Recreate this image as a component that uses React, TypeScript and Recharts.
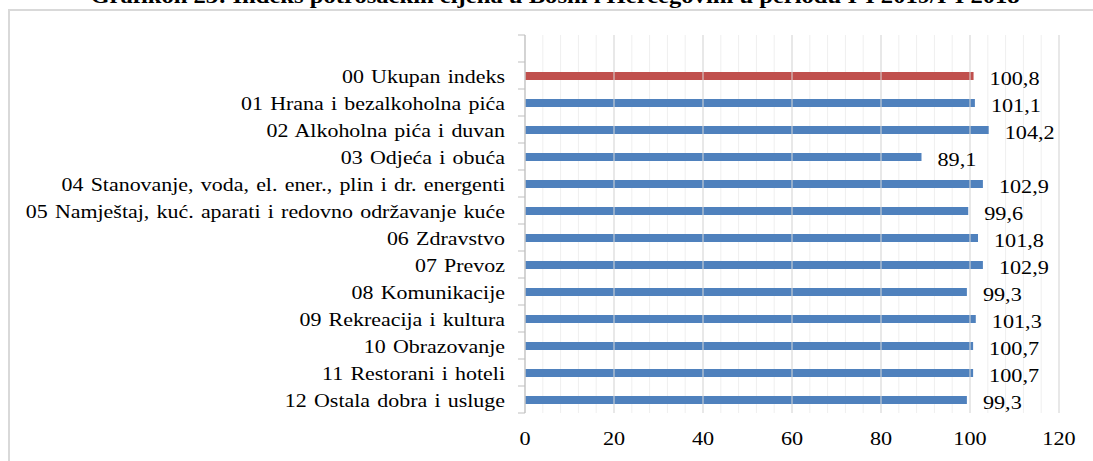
import React from "react";
import {
  BarChart,
  Bar,
  XAxis,
  YAxis,
  CartesianGrid,
  ReferenceLine,
  LabelList,
  Cell,
} from "recharts";

// first row is an empty category (blank row in the source sheet)
const categories = [
  "",
  "00 Ukupan indeks",
  "01 Hrana i bezalkoholna pića",
  "02 Alkoholna pića i duvan",
  "03 Odjeća i obuća",
  "04 Stanovanje, voda, el. ener., plin i dr. energenti",
  "05 Namještaj, kuć. aparati i redovno održavanje kuće",
  "06 Zdravstvo",
  "07 Prevoz",
  "08 Komunikacije",
  "09 Rekreacija i kultura",
  "10 Obrazovanje",
  "11 Restorani i hoteli",
  "12 Ostala dobra i usluge",
];

const values: (number | null)[] = [
  null, 100.8, 101.1, 104.2, 89.1, 102.9, 99.6, 101.8, 102.9, 99.3, 101.3, 100.7, 100.7, 99.3,
];

const majorTicks = [0, 20, 40, 60, 80, 100, 120];
const minorTicks = [
  0, 4, 8, 12, 16, 20, 24, 28, 32, 36, 40, 44, 48, 52, 56, 60, 64, 68, 72, 76, 80, 84, 88,
  92, 96, 100, 104, 108, 112, 116, 120,
];

const TITLE =
  "Grafikon 23: Indeks potrošačkih cijena u Bosni i Hercegovini u periodu I-I 2019/I-I 2018";

const data = categories.map((name, i) => ({ name, value: values[i] }));

const FONT = "'Liberation Serif', 'Times New Roman', serif";
const FONT_SIZE = 19;
const STRETCH = 1.17; // source picture is stretched horizontally
const RED = "#C0504D";
const BLUE = "#4F81BD";

const PLOT_TOP = 35;
const PLOT_BOTTOM = 413;
const HALF_BAND = (PLOT_BOTTOM - PLOT_TOP) / categories.length / 2;

const textStyle = { fontFamily: FONT, fontSize: FONT_SIZE, fill: "#000" };

function CategoryTick({ x, y, payload, index }: any) {
  const axisX = x + 20;
  return (
    <g>
      <line x1={axisX - 7} x2={axisX} y1={y - HALF_BAND} y2={y - HALF_BAND} stroke="#bfbfbf" />
      {index === categories.length - 1 && (
        <line x1={axisX - 7} x2={axisX} y1={y + HALF_BAND} y2={y + HALF_BAND} stroke="#bfbfbf" />
      )}
      <text
        transform={`translate(${x},${y + 7}) scale(1.155,1)`}
        textAnchor="end"
        style={{ ...textStyle, wordSpacing: 1.5 }}
      >
        {payload.value}
      </text>
    </g>
  );
}

function ValueTick({ x, payload }: any) {
  if (!majorTicks.includes(payload.value)) return <g />;
  return (
    <text
      transform={`translate(${x},445) scale(${STRETCH},1)`}
      textAnchor="middle"
      style={textStyle}
    >
      {payload.value}
    </text>
  );
}

function ValueLabel({ x, y, width, height, value }: any) {
  if (value === null || value === undefined) return null;
  return (
    <text
      transform={`translate(${x + width + 16},${y + height / 2 + 9}) scale(${STRETCH},1)`}
      style={textStyle}
    >
      {value.toFixed(1).replace(".", ",")}
    </text>
  );
}

export default function App() {
  return (
    <div
      style={{
        position: "absolute",
        left: 0,
        top: 0,
        width: 1093,
        height: 461,
        overflow: "hidden",
        background: "#fff",
      }}
    >
      <div
        style={{
          position: "absolute",
          left: 8,
          top: 9,
          width: 1200,
          height: 600,
          border: "2px solid #d9d9d9",
          boxSizing: "border-box",
        }}
      />
      <div
        style={{
          position: "absolute",
          left: 0,
          top: -14,
          width: 1110,
          textAlign: "center",
          fontFamily: FONT,
          fontWeight: 700,
          fontSize: 20.5,
          lineHeight: "20px",
          whiteSpace: "nowrap",
          transform: "scaleX(1.2)",
          transformOrigin: "555px 0",
        }}
      >
        {TITLE}
      </div>
      <div style={{ position: "absolute", left: 0, top: 0 }}>
        <BarChart
          width={1093}
          height={461}
          layout="vertical"
          data={data}
          margin={{ top: PLOT_TOP, right: 34, left: 0, bottom: 0 }}
        >
          <CartesianGrid horizontal={false} stroke="#efefef" />
          {majorTicks.map((t) => (
            <ReferenceLine key={t} x={t} stroke="#d9d9d9" />
          ))}
          <XAxis
            type="number"
            domain={[0, 120]}
            ticks={minorTicks}
            interval={0}
            height={461 - PLOT_BOTTOM}
            axisLine={false}
            tickLine={false}
            tick={<ValueTick />}
          />
          <YAxis
            type="category"
            dataKey="name"
            width={525}
            interval={0}
            axisLine={{ stroke: "#bfbfbf" }}
            tickLine={false}
            tickSize={7}
            tickMargin={13}
            tick={<CategoryTick />}
          />
          <Bar dataKey="value" barSize={8} isAnimationActive={false}>
            {data.map((d, i) => (
              <Cell key={i} fill={i === 1 ? RED : BLUE} />
            ))}
            <LabelList dataKey="value" content={<ValueLabel />} />
          </Bar>
        </BarChart>
      </div>
    </div>
  );
}
